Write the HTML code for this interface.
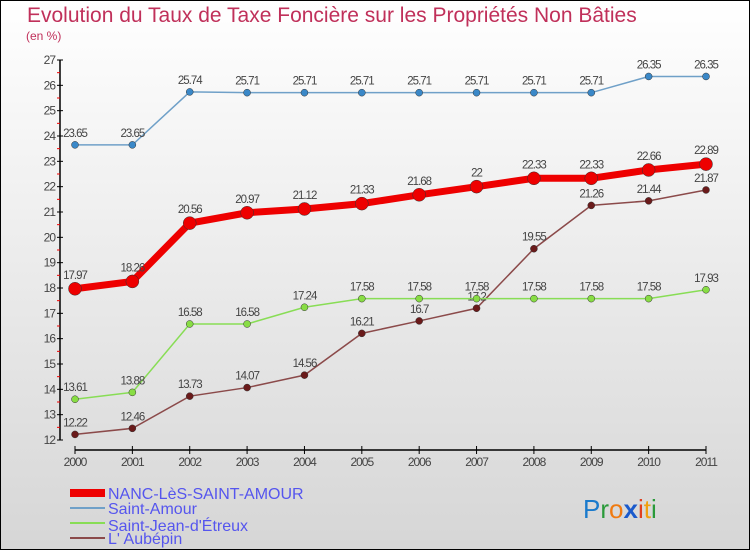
<!DOCTYPE html>
<html><head><meta charset="utf-8"><style>
body{margin:0}
#c{width:750px;height:550px;position:relative;box-sizing:border-box;border:1px solid #000;background:linear-gradient(#fff,#d6d6d6);font-family:"Liberation Sans",sans-serif;overflow:hidden}
</style></head><body>
<div id="c">
<svg id="s" width="750" height="550" style="position:absolute;left:-1px;top:-1px">
<text x="27" y="22" font-size="21" fill="#c0305a">Evolution du Taux de Taxe Foncière sur les Propriétés Non Bâties</text>
<text x="26" y="40" font-size="12" fill="#c0305a">(en %)</text>
<g id="axes"></g><g id="series"></g>
<g>
<rect x="70" y="489" width="35" height="8" fill="#e00"/>
<text x="108" y="499" font-size="16" fill="#5555ee">NANC-LèS-SAINT-AMOUR</text>
<line x1="70" y1="508" x2="105" y2="508" stroke="#6fa0c8" stroke-width="2"/>
<text x="108" y="514" font-size="16" fill="#5555ee">Saint-Amour</text>
<line x1="70" y1="523" x2="105" y2="523" stroke="#88dd55" stroke-width="2"/>
<text x="108" y="531" font-size="16" fill="#5555ee">Saint-Jean-d'Étreux</text>
<line x1="70" y1="538" x2="105" y2="538" stroke="#8b4a4a" stroke-width="2"/>
<text x="108" y="544" font-size="16" fill="#5555ee">L' Aubépin</text>
</g>
<text x="583" y="518" font-size="26"><tspan fill="#1a7acc">P</tspan><tspan fill="#2a9a3a">r</tspan><tspan fill="#f07a10">o</tspan><tspan fill="#1a5acc" font-weight="bold">x</tspan><tspan fill="#e04020">i</tspan><tspan fill="#f0a010">t</tspan><tspan fill="#2a9a3a">i</tspan></text>
</svg></div>
<script>
const years=[2000,2001,2002,2003,2004,2005,2006,2007,2008,2009,2010,2011];
const nanc=[17.97,18.26,20.56,20.97,21.12,21.33,21.68,22,22.33,22.33,22.66,22.89];
const amour=[23.65,23.65,25.74,25.71,25.71,25.71,25.71,25.71,25.71,25.71,26.35,26.35];
const jean=[13.61,13.88,16.58,16.58,17.24,17.58,17.58,17.58,17.58,17.58,17.58,17.93];
const aubepin=[12.22,12.46,13.73,14.07,14.56,16.21,16.7,17.2,19.55,21.26,21.44,21.87];
const yTicks=[12,13,14,15,16,17,18,19,20,21,22,23,24,25,26,27];
const NS="http://www.w3.org/2000/svg";
const X=i=>75+i*(706-75)/11, Y=v=>440-(v-12)*(380/15);
function mk(t,a,p){const e=document.createElementNS(NS,t);for(const k in a)e.setAttribute(k,a[k]);p.appendChild(e);return e;}
const ax=document.getElementById('axes'),sg=document.getElementById('series');
let e=mk('line',{x1:60,y1:Y(27),x2:60,y2:Y(12),stroke:'#000','stroke-width':1.5},ax);

e=mk('line',{x1:75,y1:450,x2:706,y2:450,stroke:'#000','stroke-width':1.5},ax);

yTicks.forEach(v=>{mk('line',{x1:57,y1:Y(v),x2:63,y2:Y(v),stroke:'#000'},ax);
 if(v<27)mk('line',{x1:57,y1:Y(v+0.5),x2:60,y2:Y(v+0.5),stroke:'#e00'},ax);
 const t=mk('text',{x:55,y:Y(v)+4,'font-size':12,'text-anchor':'end',fill:'#444','letter-spacing':-1},ax);t.textContent=v;
 });
years.forEach((y,i)=>{mk('line',{x1:X(i),y1:446,x2:X(i),y2:454,stroke:'#000'},ax);
 const t=mk('text',{x:X(i),y:466,'font-size':12,'text-anchor':'middle',fill:'#444','letter-spacing':-1},ax);t.textContent=y;
 });
function series(d,col,w,r,dot,name){
 const l=mk('polyline',{points:d.map((v,i)=>X(i)+','+Y(v)).join(' '),fill:'none',stroke:col,'stroke-width':w},sg);
 
 d.forEach((v,i)=>{const c=mk('circle',{cx:X(i),cy:Y(v),r:r,fill:dot,stroke:'#333','stroke-width':0.5},sg);
  
  const t=mk('text',{x:X(i),y:Y(v)-8-(r>4?2:0),'font-size':11.5,'text-anchor':'middle',fill:'#444','letter-spacing':-1},sg);
  t.textContent=String(v);});
}
series(amour,'#6fa0c8',1.5,3.5,'#3a88c8','saint-amour');
series(aubepin,'#8b4a4a',1.5,3.5,'#6a1a1a','aubepin');
series(jean,'#88dd55',1.5,3.5,'#88dd44','saint-jean');
series(nanc,'#e00',7,6.5,'#e00','nanc');
</script></body></html>
